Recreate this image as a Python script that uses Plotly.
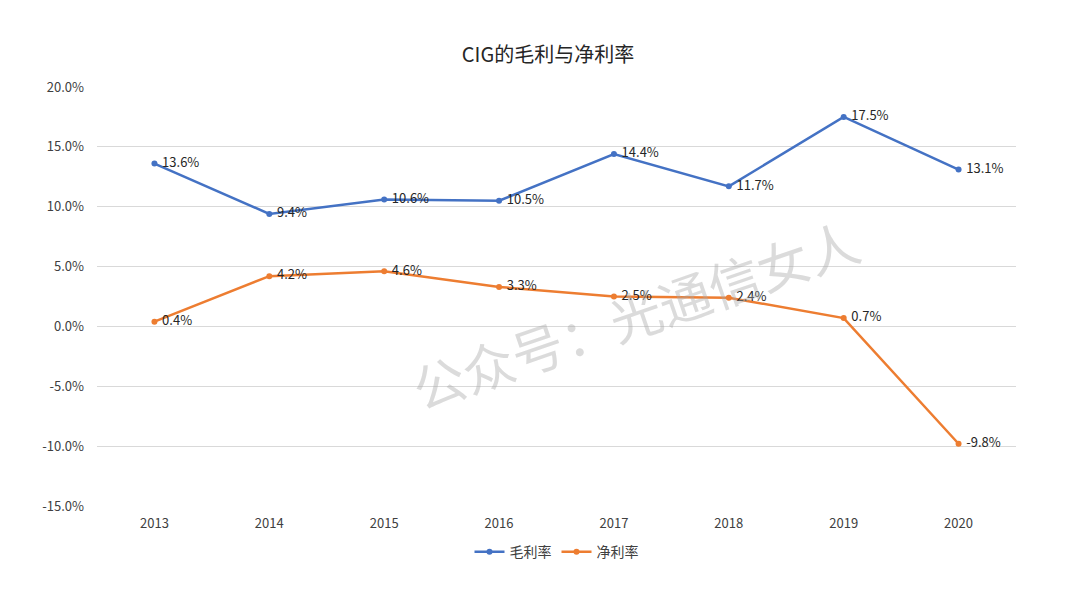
import plotly.graph_objects as go

# 数据
years = ['2013', '2014', '2015', '2016', '2017', '2018', '2019', '2020']
gross_margin = [13.6, 9.4, 10.6, 10.5, 14.4, 11.7, 17.5, 13.1]
net_margin = [0.4, 4.2, 4.6, 3.3, 2.5, 2.4, 0.7, -9.8]
y_ticks = [-15, -10, -5, 0, 5, 10, 15, 20]

font_family = 'Microsoft YaHei, Noto Sans CJK SC, sans-serif'

fig = go.Figure()

fig.add_trace(go.Scatter(
    x=years, y=gross_margin, name='毛利率',
    mode='lines+markers+text',
    line=dict(color='#4472C4', width=2.5),
    marker=dict(size=6, color='#4472C4'),
    text=[f' {v:.1f}%' for v in gross_margin],
    textposition='middle right',
    textfont=dict(size=13, color='#262626'),
))

fig.add_trace(go.Scatter(
    x=years, y=net_margin, name='净利率',
    mode='lines+markers+text',
    line=dict(color='#ED7D31', width=2.5),
    marker=dict(size=6, color='#ED7D31'),
    text=[f' {v:.1f}%' for v in net_margin],
    textposition='middle right',
    textfont=dict(size=13, color='#262626'),
))

# 水印
fig.add_annotation(
    text='公众号：光通信女人', xref='paper', yref='paper',
    x=0.585, y=0.46, showarrow=False, textangle=-19,
    font=dict(size=52, color='rgba(170,170,170,0.42)', family=font_family),
)

# la página deja 8px de margen, se compensa aquí
fig.update_layout(
    title=dict(text='CIG的毛利与净利率', x=0.5, y=0.923, xanchor='center', yanchor='middle',
               font=dict(size=20, color='#262626')),
    width=1080, height=608,
    margin=dict(l=89, r=72, t=79, b=110),
    paper_bgcolor='white', plot_bgcolor='white',
    font=dict(family=font_family, size=13, color='#404040'),
    showlegend=True,
    legend=dict(orientation='h', x=0.5, xanchor='center', y=-0.11, yanchor='middle',
                font=dict(size=14, color='#404040')),
    xaxis=dict(showgrid=False, ticks='', showline=False, zeroline=False, range=[-0.5, 7.5],
               ticklabelstandoff=8),
    yaxis=dict(range=[-15, 20], tickvals=y_ticks,
               ticktext=[f'{v:.1f}%' for v in y_ticks],
               gridcolor='#D9D9D9', zeroline=False, showline=False, ticks='',
               ticklabelstandoff=12),
)

fig.write_html('out.html')
